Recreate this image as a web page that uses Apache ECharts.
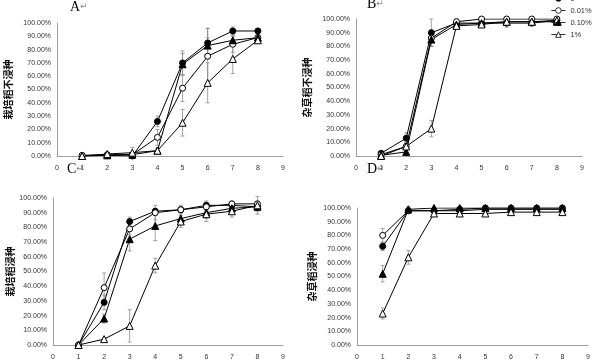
<!DOCTYPE html>
<html><head><meta charset="utf-8">
<script src="https://cdn.jsdelivr.net/npm/echarts@6/dist/echarts.min.js"></script>
<style>html,body{margin:0;padding:0;background:#fff}#c{width:593px;height:361px}</style>
</head><body><div id="c"></div>
<script>
const xVals = [1, 2, 3, 4, 5, 6, 7, 8];
const seriesNames = ['0', '0.01%', '0.10%', '1%'];
const yNames = ['栽培稻不浸种', '杂草稻不浸种', '栽培稻浸种', '杂草稻浸种'];
const panelLabels = ['A', 'B', 'C', 'D'];

// Panel A
const A_0   = [0, 0.5, 0, 26, 70, 85, 94, 94];
const A_001 = [0.5, 1, 1, 14, 51, 75, 84, 89];
const A_010 = [0, 0.5, 1, 4, 69, 83, 87, 89];
const A_1   = [0, 1.5, 2.5, 4, 25, 55, 73, 87];
const A_e0   = [0, 0, 0, 4, 9, 11, 3, 2];
const A_e001 = [0, 0, 0, 6, 10, 21, 6, 2];
const A_e010 = [0, 0, 0, 2, 8, 6, 4, 2];
const A_e1   = [0, 1, 4, 2, 10, 15, 11, 2];
// Panel B
const B_0   = [2, 13, 90, 97, 97, 97, 97, 99];
const B_001 = [1, 7, 86, 98, 100, 100, 100, 100];
const B_010 = [0.5, 3, 85, 96, 97, 98, 98, 98];
const B_1   = [0, 7, 20, 95, 96, 98, 98, 99];
const B_e0   = [1, 4, 10, 2, 3, 3, 2, 2];
const B_e001 = [1, 2, 6, 2, 1, 1, 1, 1];
const B_e010 = [0.5, 2, 5, 2, 3, 3, 2, 2];
const B_e1   = [0, 3, 6, 2, 2, 2, 2, 2];
// Panel C
const C_0   = [0, 29, 84, 91, 92, 95, 95, 94];
const C_001 = [0, 39, 79, 90, 92, 94, 96, 96];
const C_010 = [0, 18, 72, 81, 86, 90, 93, 94];
const C_1   = [0, 4, 13, 54, 84, 89, 91, 95];
const C_e0   = [0, 5, 3, 2, 2, 3, 2, 2];
const C_e001 = [0, 10, 4, 5, 3, 3, 2, 2];
const C_e010 = [0, 3, 8, 10, 4, 4, 3, 3];
const C_e1   = [0, 1, 11, 5, 4, 5, 4, 6];
// Panel D
const D_0   = [72, 98, 98, 99, 100, 100, 100, 100];
const D_001 = [80, 98, 98, 98, 99, 99, 99, 99];
const D_010 = [52, 99, 100, 100, 100, 100, 100, 100];
const D_1   = [23, 64, 96, 96, 96, 97, 97, 97];
const D_e0   = [3, 2, 1, 1, 1, 1, 1, 1];
const D_e001 = [5, 2, 1, 1, 1, 1, 1, 1];
const D_e010 = [6, 2, 1, 1, 1, 1, 1, 1];
const D_e1   = [4, 5, 2, 2, 2, 1, 1, 1];

const panels = [
  {vals: [A_0, A_001, A_010, A_1], errs: [A_e0, A_e001, A_e010, A_e1]},
  {vals: [B_0, B_001, B_010, B_1], errs: [B_e0, B_e001, B_e010, B_e1]},
  {vals: [C_0, C_001, C_010, C_1], errs: [C_e0, C_e001, C_e010, C_e1]},
  {vals: [D_0, D_001, D_010, D_1], errs: [D_e0, D_e001, D_e010, D_e1]}
];

const grids = [
  {left: 57, top: 23, width: 226, height: 133},
  {left: 356, top: 19, width: 226, height: 137},
  {left: 53, top: 198, width: 230, height: 149},
  {left: 357, top: 208, width: 233, height: 139}
];
const nameGaps = [44, 44, 38, 40];
const labelPos = [[70, 8], [367, 5], [67, 170], [367, 170]];

const symbolDefs = [
  {symbol: 'circle', fill: '#000', size: 6},
  {symbol: 'circle', fill: '#fff', size: 6},
  {symbol: 'triangle', fill: '#000', size: 7},
  {symbol: 'triangle', fill: '#fff', size: 7}
];

const txtFont = 'Liberation Sans';
const xAxes = [], yAxes = [], series = [];
grids.forEach((g, i) => {
  xAxes.push({
    type: 'value', gridIndex: i, min: 0, max: 9, interval: 1,
    splitLine: {show: false},
    axisLine: {show: true, lineStyle: {color: '#a0a0a0', width: 1}},
    axisTick: {show: false},
    axisLabel: {fontSize: 7, color: '#333', fontFamily: txtFont, margin: 9}
  });
  yAxes.push({
    type: 'value', gridIndex: i, min: 0, max: 100, interval: 10,
    splitLine: {show: false},
    axisLine: {show: true, lineStyle: {color: '#a0a0a0', width: 1}},
    axisTick: {show: false},
    axisLabel: {fontSize: 7, color: '#333', fontFamily: txtFont, margin: 6,
      formatter: v => v.toFixed(2) + '%'},
    name: yNames[i], nameLocation: 'middle', nameRotate: 90, nameGap: nameGaps[i],
    nameTextStyle: {fontSize: 10, fontWeight: 'bold', color: '#111', fontFamily: 'Noto Sans CJK SC'}
  });
  const p = panels[i];
  p.vals.forEach((vals, k) => {
    series.push({
      type: 'custom', xAxisIndex: i, yAxisIndex: i, z: 1, silent: true,
      data: xVals.map((x, j) => [x, vals[j], p.errs[k][j]]),
      renderItem: function (params, api) {
        const x = api.value(0), y = api.value(1), e = api.value(2);
        if (!e) return null;
        const hi = api.coord([x, y + e]);
        const lo = api.coord([x, y - e]);
        const w = 2;
        const st = {stroke: '#8c8c8c', lineWidth: 0.8};
        return {type: 'group', children: [
          {type: 'line', shape: {x1: hi[0], y1: hi[1], x2: lo[0], y2: lo[1]}, style: st},
          {type: 'line', shape: {x1: hi[0] - w, y1: hi[1], x2: hi[0] + w, y2: hi[1]}, style: st},
          {type: 'line', shape: {x1: lo[0] - w, y1: lo[1], x2: lo[0] + w, y2: lo[1]}, style: st}
        ]};
      }
    });
  });
  p.vals.forEach((vals, k) => {
    const s = symbolDefs[k];
    series.push({
      type: 'line', name: seriesNames[k], xAxisIndex: i, yAxisIndex: i, z: 3,
      data: xVals.map((x, j) => [x, vals[j]]),
      symbol: s.symbol, symbolSize: s.size, showAllSymbol: true,
      lineStyle: {color: '#000', width: 1},
      itemStyle: {color: s.fill, borderColor: '#000', borderWidth: 1},
      emphasis: {disabled: true}, animation: false
    });
  });
});

const graphics = panelLabels.map((t, i) => ({
  type: 'text', left: labelPos[i][0], top: labelPos[i][1] - 8,
  style: {
    text: '{a|' + t + '}{b|↵}',
    rich: {
      a: {fontSize: 14, fontFamily: 'Liberation Serif', fill: '#000'},
      b: {fontSize: 9, fontFamily: 'DejaVu Sans', fill: '#888'}
    }
  }
}));

const chart = echarts.init(document.getElementById('c'), null, {renderer: 'canvas'});
chart.setOption({
  backgroundColor: '#fff',
  animation: false,
  grid: grids,
  xAxis: xAxes,
  yAxis: yAxes,
  legend: {
    data: seriesNames, orient: 'vertical', left: 551, top: -6, padding: 0,
    itemWidth: 14, itemHeight: 7, itemGap: 3,
    itemStyle: {borderWidth: 0.8},
    lineStyle: {width: 0.8},
    textStyle: {fontSize: 7.5, color: '#333', fontFamily: txtFont, lineHeight: 9}
  },
  graphic: graphics,
  series: series
});
</script>
</body></html>
